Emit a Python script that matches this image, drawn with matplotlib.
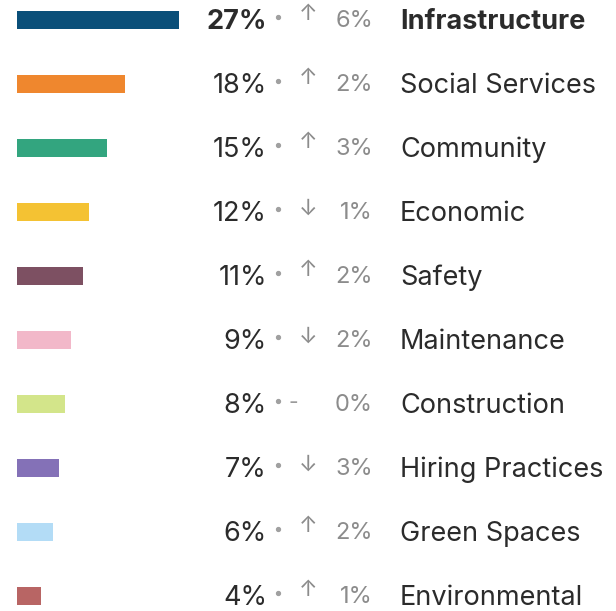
import matplotlib.pyplot as plt
from matplotlib.transforms import blended_transform_factory

plt.rcParams['font.family'] = ['Inter', 'DejaVu Sans']

categories = ["Infrastructure", "Social Services", "Community", "Economic", "Safety",
              "Maintenance", "Construction", "Hiring Practices", "Green Spaces", "Environmental"]
shares = [27, 18, 15, 12, 11, 9, 8, 7, 6, 4]
changes = [6, 2, 3, 1, 2, 2, 0, 3, 2, 1]
directions = ["up", "up", "up", "down", "up", "down", "flat", "down", "up", "up"]
colors = ["#0a4f79", "#ef872e", "#33a57f", "#f4c233", "#7d5062",
          "#f2b8c9", "#d3e58a", "#8471b7", "#b3dcf6", "#b86564"]

arrows = {"up": "\u2191", "down": "\u2193"}

W, H = 616, 611
fig = plt.figure(figsize=(W / 100, H / 100), dpi=100)
ax = fig.add_axes([0, 0, 1, 1])

px_per_pct = 6.0
left_px = 17
ax.set_xlim(-left_px / px_per_pct, (W - left_px) / px_per_pct)
row_px = 64
top_px = 20
ax.set_ylim((H - top_px) / row_px, -top_px / row_px)
ax.axis("off")

y = list(range(len(categories)))
ax.barh(y, shares, height=18 / row_px, color=colors)

tr = blended_transform_factory(ax.transAxes, ax.transData)
for i, cat in enumerate(categories):
    weight = "bold" if i == 0 else "normal"
    ty = i + 0.035
    ax.text(267 / W, ty, f"{shares[i]}%", transform=tr, ha="right", va="center",
            fontsize=19.5, color="#2b2b2b", fontweight=weight)
    # small separator dot
    ax.plot([278 / W], [i - 0.05], transform=tr, marker="o", markersize=2.8,
            color="#a0a0a0", linestyle="none")
    if directions[i] == "flat":
        ax.text(293 / W, i - 0.02, "-", transform=tr, ha="center", va="center",
                fontsize=15, color="#9a9a9a")
    else:
        dy = -0.1 if directions[i] == "up" else -0.05
        ax.text(308 / W, i + dy, arrows[directions[i]], transform=tr, ha="center",
                va="center", fontsize=16, color="#8c8c8c")
    ax.text(373 / W, ty - 0.02, f"{changes[i]}%", transform=tr, ha="right", va="center",
            fontsize=17, color="#8c8c8c")
    ax.text(400 / W, ty, cat, transform=tr, ha="left", va="center",
            fontsize=19.5, color="#2b2b2b", fontweight=weight)

fig.savefig("out.png", dpi=100, facecolor="white")
